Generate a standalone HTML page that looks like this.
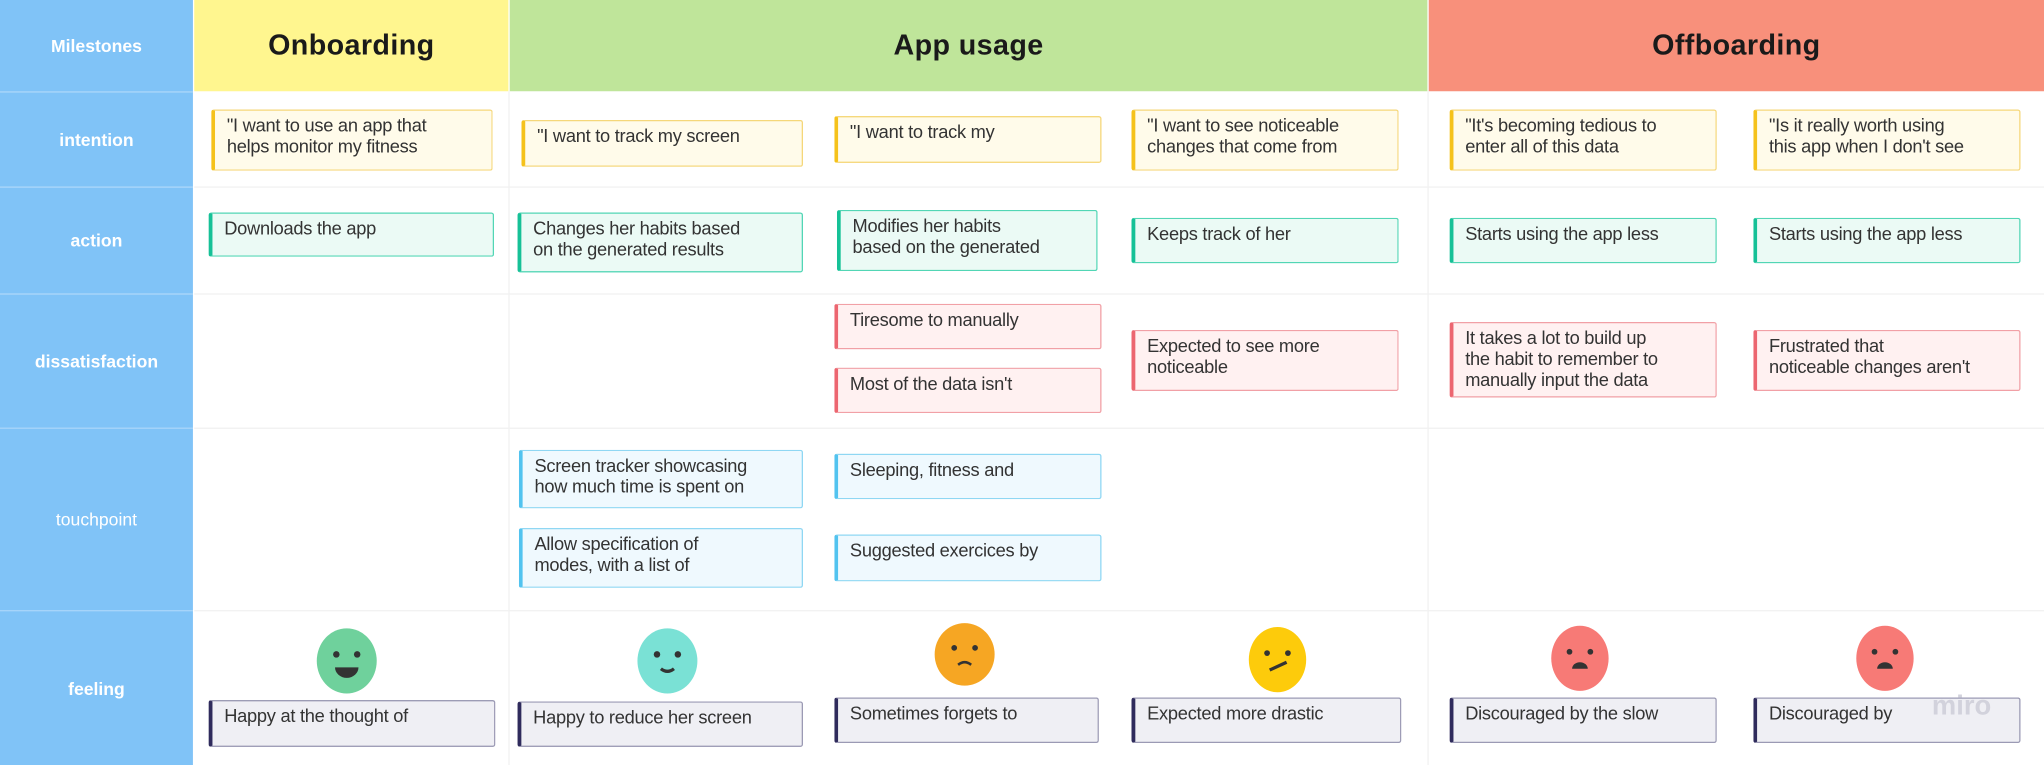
<!DOCTYPE html>
<html><head><meta charset="utf-8"><style>
html,body{margin:0;padding:0;width:2044px;height:764px;overflow:hidden;background:#fff;font-family:"Liberation Sans",sans-serif}
#s{position:absolute;left:0;top:0;width:1568px;height:587px;transform:scale(1.30357);transform-origin:0 0}
.a{position:absolute;box-sizing:border-box}
.lab{left:0;width:148px;background:#80c3f7;color:#fff;font-weight:bold;font-size:13.5px;display:flex;align-items:center;justify-content:center;border-bottom:1px solid #a9d6fa}
.h{top:0;height:70px;font-weight:bold;font-size:22px;color:#1a1a1a;display:flex;align-items:center;justify-content:center;letter-spacing:0.3px}
.c{position:absolute;box-sizing:border-box;border:1px solid;border-left-width:3px;border-radius:2px;font-size:14px;letter-spacing:-0.2px;line-height:16px;color:#333;padding:3px 8px 0 9px;white-space:nowrap;overflow:hidden}
.y{border-color:#f5d77a;border-left-color:#f5c21b;background:#fffbea}
.g{border-color:#52d6b5;border-left-color:#16c197;background:#ebfaf5}
.r{border-color:#f1a0a6;border-left-color:#ec6670;background:#fff1f1}
.b{border-color:#8fd7f3;border-left-color:#52c3ef;background:#eff9fe}
.p{border-color:#9b9ab4;border-left-color:#2f2b5c;background:#efeff4}
.hl{position:absolute;left:149px;width:1419px;height:1px;background:#f1f1f1}
.vl{position:absolute;top:70px;width:1px;height:517px;background:#f1f1f1}
</style></head><body><div id="s">
<div class="a lab" style="top:0;height:71px">Milestones</div>
<div class="a lab" style="top:71px;height:73px">intention</div>
<div class="a lab" style="top:144px;height:82px">action</div>
<div class="a lab" style="top:226px;height:103px">dissatisfaction</div>
<div class="a lab" style="top:329px;height:140px;font-weight:normal">touchpoint</div>
<div class="a lab" style="top:469px;height:118px;border:0">feeling</div>
<div class="a h" style="left:149px;width:241px;background:#fff68f">Onboarding</div>
<div class="a h" style="left:391px;width:704px;background:#bfe59a">App usage</div>
<div class="a h" style="left:1096px;width:472px;background:#f8907b">Offboarding</div>
<div class="hl" style="top:143px"></div><div class="hl" style="top:225px"></div><div class="hl" style="top:328px"></div><div class="hl" style="top:468px"></div>
<div class="vl" style="left:390px"></div><div class="vl" style="left:1095px"></div>

<div class="c y" style="left:162px;top:84px;width:216px;height:47px">"I want to use an app that<br>helps monitor my fitness</div>
<div class="c y" style="left:400px;top:92px;width:216px;height:36px">"I want to track my screen</div>
<div class="c y" style="left:640px;top:89px;width:205px;height:36px">"I want to track my</div>
<div class="c y" style="left:868px;top:84px;width:205px;height:47px">"I want to see noticeable<br>changes that come from</div>
<div class="c y" style="left:1112px;top:84px;width:205px;height:47px">"It's becoming tedious to<br>enter all of this data</div>
<div class="c y" style="left:1345px;top:84px;width:205px;height:47px">"Is it really worth using<br>this app when I don't see</div>

<div class="c g" style="left:160px;top:163px;width:219px;height:34px">Downloads the app</div>
<div class="c g" style="left:397px;top:163px;width:219px;height:46px">Changes her habits based<br>on the generated results</div>
<div class="c g" style="left:642px;top:161px;width:200px;height:47px">Modifies her habits<br>based on the generated</div>
<div class="c g" style="left:868px;top:167px;width:205px;height:35px">Keeps track of her</div>
<div class="c g" style="left:1112px;top:167px;width:205px;height:35px">Starts using the app less</div>
<div class="c g" style="left:1345px;top:167px;width:205px;height:35px">Starts using the app less</div>

<div class="c r" style="left:640px;top:233px;width:205px;height:35px">Tiresome to manually</div>
<div class="c r" style="left:640px;top:282px;width:205px;height:35px">Most of the data isn't</div>
<div class="c r" style="left:868px;top:253px;width:205px;height:47px">Expected to see more<br>noticeable</div>
<div class="c r" style="left:1112px;top:247px;width:205px;height:58px">It takes a lot to build up<br>the habit to remember to<br>manually input the data</div>
<div class="c r" style="left:1345px;top:253px;width:205px;height:47px">Frustrated that<br>noticeable changes aren't</div>

<div class="c b" style="left:398px;top:345px;width:218px;height:45px">Screen tracker showcasing<br>how much time is spent on</div>
<div class="c b" style="left:398px;top:405px;width:218px;height:46px">Allow specification of<br>modes, with a list of</div>
<div class="c b" style="left:640px;top:348px;width:205px;height:35px">Sleeping, fitness and</div>
<div class="c b" style="left:640px;top:410px;width:205px;height:36px">Suggested exercices by</div>

<div class="c p" style="left:160px;top:537px;width:220px;height:36px">Happy at the thought of</div>
<div class="c p" style="left:397px;top:538px;width:219px;height:35px">Happy to reduce her screen</div>
<div class="c p" style="left:640px;top:535px;width:203px;height:35px">Sometimes forgets to</div>
<div class="c p" style="left:868px;top:535px;width:207px;height:35px">Expected more drastic</div>
<div class="c p" style="left:1112px;top:535px;width:205px;height:35px">Discouraged by the slow</div>
<div class="c p" style="left:1345px;top:535px;width:205px;height:35px">Discouraged by</div>
<div class="a" style="left:1482px;top:530px;font-size:21px;font-weight:bold;color:#d2d2dc">miro</div>

<svg class="a" style="left:0;top:0" width="1568" height="587">
<g fill="#333">
<ellipse cx="266" cy="507" rx="23" ry="25" fill="#6fd19c"/><circle cx="258" cy="502" r="2.5"/><circle cx="274" cy="502" r="2.5"/><path d="M257 512 h18 a9 8 0 0 1 -18 0z"/>
<ellipse cx="512" cy="507" rx="23" ry="25" fill="#7ae1d5"/><circle cx="504" cy="502" r="2.5"/><circle cx="520" cy="502" r="2.5"/><path d="M507 513 q5 4 10 0" stroke="#333" stroke-width="2.5" fill="none"/>
<ellipse cx="740" cy="502" rx="23" ry="24" fill="#f6a623"/><circle cx="732" cy="497" r="2.2"/><circle cx="748" cy="497" r="2.2"/><path d="M735 510 q5 -4 10 0" stroke="#333" stroke-width="2" fill="none"/>
<ellipse cx="980" cy="506" rx="22" ry="25" fill="#fdcb0b"/><circle cx="972" cy="501" r="2.2"/><circle cx="988" cy="501" r="2.2"/><path d="M974 514 l13 -6" stroke="#333" stroke-width="2.5"/>
<ellipse cx="1212" cy="505" rx="22" ry="25" fill="#f77a76"/><circle cx="1204" cy="500" r="2.2"/><circle cx="1220" cy="500" r="2.2"/><path d="M1206 513 a6 5 0 0 1 12 0z"/>
<ellipse cx="1446" cy="505" rx="22" ry="25" fill="#f77a76"/><circle cx="1438" cy="500" r="2.2"/><circle cx="1454" cy="500" r="2.2"/><path d="M1440 513 a6 5 0 0 1 12 0z"/>
</g></svg>
</div></body></html>
